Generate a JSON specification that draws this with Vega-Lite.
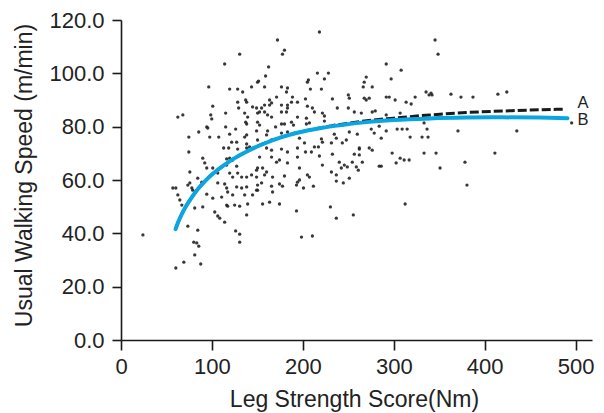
{
  "$schema": "https://vega.github.io/schema/vega-lite/v6.json",
  "width": 471,
  "height": 320,
  "autosize": {"type": "none"},
  "padding": {"left": 121, "top": 20, "right": 12, "bottom": 73},
  "background": "white",
  "config": {
    "view": {"stroke": null},
    "font": "Liberation Sans",
    "axis": {"domainColor": "#1a1a1a", "domainWidth": 1.6, "tickColor": "#1a1a1a", "tickWidth": 1.6, "labelColor": "#222222", "titleColor": "#222222", "labelFont": "Liberation Sans", "titleFont": "Liberation Sans", "labelFontSize": 22, "titleFontSize": 23, "titleFontWeight": "normal", "grid": false}
  },
  "datasets": {
    "pts": [
      {"x":130.5,"y":107.2},{"x":114,"y":103.5},{"x":96.5,"y":94.9},{"x":119.5,"y":94.1},{"x":128.3,"y":94.1},{"x":133.8,"y":93.0},{"x":143.6,"y":94.9},{"x":150.2,"y":96.7},{"x":100.9,"y":87.7},{"x":128.3,"y":89.2},{"x":137.1,"y":90.0},{"x":138.2,"y":89.2},{"x":129.4,"y":87.0},{"x":144.7,"y":87.4},{"x":149.1,"y":87.0},{"x":62.5,"y":83.6},{"x":68.0,"y":84.4},{"x":98.7,"y":84.4},{"x":99.8,"y":82.9},{"x":115.1,"y":85.1},{"x":136.0,"y":85.1},{"x":139.3,"y":83.6},{"x":137.1,"y":81.7},{"x":138.2,"y":81.0},{"x":150.2,"y":85.1},{"x":150.2,"y":81.7},{"x":94.3,"y":79.9},{"x":95.4,"y":79.5},{"x":115.1,"y":79.9},{"x":126.1,"y":79.1},{"x":85.5,"y":78.0},{"x":74.6,"y":76.1},{"x":97.6,"y":76.1},{"x":107.5,"y":76.1},{"x":119.5,"y":77.2},{"x":138.2,"y":76.9},{"x":136.0,"y":76.1},{"x":121.7,"y":74.2},{"x":127.2,"y":74.2},{"x":138.2,"y":73.5},{"x":141.4,"y":72.4},{"x":149.1,"y":78.4},{"x":150.2,"y":75.0},
      {"x":218.2,"y":115.5},{"x":172.1,"y":112.5},{"x":179.8,"y":108.7},{"x":177.6,"y":107.2},{"x":162.3,"y":102.4},{"x":159.0,"y":99.0},{"x":151.3,"y":97.1},{"x":176.5,"y":94.9},{"x":183.1,"y":94.5},{"x":182.0,"y":93.0},{"x":206.1,"y":97.5},{"x":205.0,"y":96.7},{"x":216.0,"y":100.1},{"x":223.7,"y":97.9},{"x":228.1,"y":100.1},{"x":208.3,"y":94.1},{"x":220.4,"y":94.1},{"x":269.7,"y":98.6},{"x":267.5,"y":96.7},{"x":266.4,"y":94.9},{"x":276.3,"y":94.9},{"x":157.9,"y":94.9},{"x":188.6,"y":91.1},{"x":194.1,"y":89.2},{"x":187.5,"y":89.2},{"x":163.4,"y":90.0},{"x":165.6,"y":88.9},{"x":163.4,"y":88.1},{"x":157.9,"y":88.1},{"x":171.1,"y":91.1},{"x":176.5,"y":88.1},{"x":183.1,"y":88.1},{"x":183.1,"y":87.0},{"x":202.9,"y":90.4},{"x":205.0,"y":87.7},{"x":232.5,"y":90.4},{"x":250.0,"y":91.9},{"x":251.1,"y":90.7},{"x":267.5,"y":90.7},{"x":273.0,"y":90.7},{"x":269.7,"y":90.0},{"x":279.6,"y":85.9},{"x":276.3,"y":85.5},{"x":264.3,"y":85.1},{"x":154.6,"y":87.0},{"x":152.4,"y":85.5},{"x":157.9,"y":85.5},{"x":161.2,"y":84.4},{"x":165.6,"y":83.6},{"x":176.5,"y":85.5},{"x":182.0,"y":85.5},{"x":210.5,"y":87.0},{"x":212.7,"y":85.5},{"x":221.5,"y":85.1},{"x":223.7,"y":84.0},{"x":237.9,"y":87.0},{"x":250.0,"y":87.0},{"x":194.1,"y":83.6},{"x":203.9,"y":83.2},{"x":187.5,"y":81.7},{"x":189.7,"y":80.6},{"x":176.5,"y":81.0},{"x":179.8,"y":81.0},{"x":152.4,"y":80.6},{"x":161.2,"y":78.4},{"x":170.0,"y":79.9},{"x":203.9,"y":81.0},{"x":207.2,"y":81.4},{"x":223.7,"y":82.1},{"x":234.6,"y":80.6},{"x":256.6,"y":85.5},{"x":176.5,"y":77.6},{"x":183.1,"y":78.0},{"x":190.8,"y":77.6},{"x":234.6,"y":77.2},{"x":236.8,"y":75.7},{"x":251.1,"y":78.0},{"x":259.9,"y":77.2},{"x":275.2,"y":79.1},{"x":278.5,"y":77.6},{"x":220.4,"y":75.4},{"x":221.5,"y":74.2},{"x":243.4,"y":73.9},{"x":247.8,"y":75.0},{"x":196.3,"y":75.7},{"x":201.8,"y":73.9},{"x":165.6,"y":75.0},{"x":160.1,"y":76.9},{"x":262.1,"y":72.0},{"x":273.0,"y":72.0},{"x":212.7,"y":72.4},{"x":231.4,"y":73.9},
      {"x":74.6,"y":70.5},{"x":112.9,"y":72.0},{"x":118.4,"y":72.0},{"x":128.3,"y":71.6},{"x":138.2,"y":72.0},{"x":89.9,"y":68.2},{"x":92.1,"y":66.4},{"x":94.3,"y":64.5},{"x":116.2,"y":67.9},{"x":119.5,"y":68.2},{"x":122.8,"y":67.5},{"x":75.7,"y":63.0},{"x":84.4,"y":60.7},{"x":100.9,"y":64.5},{"x":106.4,"y":62.6},{"x":116.2,"y":65.6},{"x":127.2,"y":65.2},{"x":119.5,"y":62.6},{"x":122.8,"y":61.1},{"x":128.3,"y":62.6},{"x":132.7,"y":61.1},{"x":138.2,"y":61.1},{"x":143.6,"y":61.9},{"x":149.1,"y":63.7},{"x":57.0,"y":57.0},{"x":60.3,"y":57.0},{"x":75.7,"y":58.9},{"x":73.5,"y":58.1},{"x":88.8,"y":59.2},{"x":77.9,"y":57.0},{"x":78.9,"y":56.2},{"x":62.5,"y":54.4},{"x":64.7,"y":52.5},{"x":66.9,"y":50.6},{"x":106.4,"y":58.9},{"x":114.0,"y":58.5},{"x":116.2,"y":57.0},{"x":117.3,"y":55.5},{"x":127.2,"y":57.4},{"x":132.7,"y":57.0},{"x":138.2,"y":57.4},{"x":94.3,"y":54.7},{"x":100.9,"y":53.2},{"x":110.7,"y":53.6},{"x":122.8,"y":54.4},{"x":136.0,"y":54.4},{"x":144.7,"y":54.4},{"x":150.2,"y":56.2},{"x":116.2,"y":50.6},{"x":117.3,"y":50.2},{"x":125.0,"y":50.6},{"x":130.5,"y":50.2},{"x":139.3,"y":51.0},{"x":81.1,"y":49.5},{"x":89.9,"y":49.9},{"x":103.1,"y":48.0},{"x":106.4,"y":46.5},{"x":108.6,"y":45.7},{"x":114.0,"y":44.2},{"x":138.2,"y":46.9},{"x":24.1,"y":39.4},{"x":73.5,"y":42.7},{"x":84.4,"y":41.2},{"x":126.1,"y":40.9},{"x":130.5,"y":39.7},{"x":80.0,"y":36.7},{"x":83.3,"y":36.4},{"x":85.5,"y":35.2},{"x":130.5,"y":36.7},{"x":81.1,"y":31.9},{"x":69.1,"y":29.2},{"x":87.7,"y":28.5},{"x":60.3,"y":27.0},
      {"x":160.1,"y":72.0},{"x":165.6,"y":71.2},{"x":176.5,"y":71.6},{"x":183.1,"y":70.5},{"x":194.1,"y":72.0},{"x":202.9,"y":70.5},{"x":209.4,"y":70.5},{"x":217.1,"y":72.4},{"x":152.4,"y":68.6},{"x":165.6,"y":68.6},{"x":171.1,"y":66.7},{"x":174.3,"y":67.5},{"x":194.1,"y":68.6},{"x":218.2,"y":69.0},{"x":232.5,"y":69.7},{"x":183.1,"y":66.4},{"x":221.5,"y":65.6},{"x":150.2,"y":64.5},{"x":155.7,"y":64.5},{"x":160.1,"y":63.0},{"x":157.9,"y":61.9},{"x":196.3,"y":64.5},{"x":240.1,"y":66.7},{"x":245.6,"y":65.6},{"x":248.9,"y":64.9},{"x":254.4,"y":66.7},{"x":256.6,"y":69.7},{"x":262.1,"y":69.4},{"x":262.1,"y":71.6},{"x":276.3,"y":71.2},{"x":258.8,"y":64.9},{"x":261.0,"y":63.7},{"x":265.4,"y":66.7},{"x":284.0,"y":65.2},{"x":286.2,"y":65.2},{"x":242.3,"y":64.5},{"x":231.4,"y":63.0},{"x":236.8,"y":61.9},{"x":251.1,"y":60.7},{"x":236.8,"y":59.6},{"x":244.5,"y":58.9},{"x":149.1,"y":61.1},{"x":154.6,"y":58.9},{"x":150.2,"y":58.1},{"x":149.1,"y":56.2},{"x":166.7,"y":61.1},{"x":179.8,"y":61.5},{"x":196.3,"y":60.0},{"x":194.1,"y":59.2},{"x":205.0,"y":61.9},{"x":207.2,"y":61.1},{"x":165.6,"y":57.7},{"x":174.3,"y":58.5},{"x":177.6,"y":57.7},{"x":193.0,"y":58.1},{"x":200.7,"y":57.0},{"x":211.6,"y":57.7},{"x":166.7,"y":55.5},{"x":155.7,"y":51.0},{"x":163.4,"y":51.7},{"x":174.3,"y":51.0},{"x":193.0,"y":48.4},{"x":230.3,"y":49.9},{"x":236.8,"y":45.7},{"x":255.5,"y":46.9},{"x":198.5,"y":38.6},{"x":210.5,"y":39.0},
      {"x":345.4,"y":112.5},{"x":348.7,"y":107.2},{"x":291.7,"y":103.5},{"x":308.1,"y":101.2},{"x":297.1,"y":97.9},{"x":291.7,"y":91.1},{"x":295.0,"y":91.1},{"x":301.5,"y":90.0},{"x":313.6,"y":89.2},{"x":319.1,"y":88.5},{"x":323.5,"y":91.1},{"x":335.5,"y":93.0},{"x":341.0,"y":92.6},{"x":342.1,"y":91.9},{"x":338.8,"y":91.9},{"x":362.9,"y":92.2},{"x":373.9,"y":91.1},{"x":387.1,"y":91.1},{"x":414.5,"y":92.2},{"x":424.3,"y":93.0},{"x":291.7,"y":84.4},{"x":307.0,"y":85.1},{"x":284.0,"y":80.2},{"x":291.7,"y":78.4},{"x":286.2,"y":75.7},{"x":303.7,"y":79.1},{"x":309.2,"y":79.1},{"x":314.7,"y":79.1},{"x":333.3,"y":81.4},{"x":336.6,"y":79.1},{"x":370.6,"y":78.4},{"x":435.3,"y":78.4},{"x":495.6,"y":81.4},{"x":318.0,"y":76.1},{"x":331.1,"y":76.1},{"x":337.7,"y":76.1},{"x":298.2,"y":70.1},{"x":333.3,"y":70.1},{"x":346.5,"y":70.1},{"x":307.0,"y":68.2},{"x":311.4,"y":67.5},{"x":316.9,"y":67.5},{"x":302.6,"y":66.4},{"x":350.9,"y":64.5},{"x":378.3,"y":66.7},{"x":411.2,"y":70.1},{"x":380.5,"y":58.1},{"x":312.5,"y":51.0}
    ],
    "curveB": [
      {"x":60,"y":41.6},{"x":63,"y":44.3},{"x":67,"y":47.3},{"x":72,"y":50.4},{"x":78,"y":53.6},{"x":85,"y":56.8},{"x":93,"y":59.8},{"x":102,"y":62.6},{"x":113,"y":65.5},{"x":125,"y":68.2},{"x":140,"y":71.0},{"x":157,"y":73.6},{"x":175,"y":75.9},{"x":195,"y":77.8},{"x":220,"y":79.5},{"x":245,"y":80.7},{"x":270,"y":81.7},{"x":300,"y":82.5},{"x":340,"y":83.1},{"x":380,"y":83.4},{"x":420,"y":83.5},{"x":460,"y":83.4},{"x":491,"y":83.2}
    ],
    "curveA": [
      {"x":60,"y":41.6},{"x":67,"y":47.3},{"x":78,"y":53.6},{"x":93,"y":59.8},{"x":113,"y":65.5},{"x":140,"y":71.0},{"x":175,"y":75.9},{"x":195,"y":77.8},{"x":220,"y":79.6},{"x":245,"y":81.0},{"x":270,"y":82.2},{"x":300,"y":83.2},{"x":340,"y":84.4},{"x":380,"y":85.3},{"x":430,"y":86.0},{"x":489,"y":86.6}
    ],
    "labels": [
      {"x":502,"y":88.9,"label":"A"},{"x":502,"y":82.5,"label":"B"}
    ]
  },
  "layer": [
    {
      "data": {"name": "pts"},
      "mark": {"type": "circle", "size": 11, "color": "#222222", "opacity": 0.9},
      "encoding": {
        "x": {"field": "x", "type": "quantitative", "scale": {"domain": [0, 518], "nice": false},
          "axis": {"values": [0,100,200,300,400,500], "tickSize": 10, "labelPadding": 6, "labelFlush": false, "title": "Leg Strength Score(Nm)", "titleX": 233, "titleY": 48, "titleBaseline": "top", "titleAnchor": null, "titleAlign": "center"}},
        "y": {"field": "y", "type": "quantitative", "scale": {"domain": [0, 120], "nice": false},
          "axis": {"values": [0,20,40,60,80,100,120], "format": ".1f", "tickSize": 9, "labelPadding": 8, "labelFlush": false, "title": "Usual Walking Speed (m/min)", "titleAngle": -90, "titleX": -97, "titleY": 155, "titleAlign": "center", "titleBaseline": "middle"}}
      }
    },
    {
      "data": {"name": "curveA"},
      "mark": {"type": "line", "color": "#1a1a1a", "strokeWidth": 3, "strokeDash": [9, 3], "interpolate": "monotone"},
      "encoding": {"x": {"field": "x", "type": "quantitative"}, "y": {"field": "y", "type": "quantitative"}}
    },
    {
      "data": {"name": "curveB"},
      "mark": {"type": "line", "color": "#0aa6e2", "strokeWidth": 4, "interpolate": "monotone", "strokeCap": "round"},
      "encoding": {"x": {"field": "x", "type": "quantitative"}, "y": {"field": "y", "type": "quantitative"}}
    },
    {
      "data": {"name": "labels"},
      "mark": {"type": "text", "align": "left", "baseline": "middle", "fontSize": 16.5, "color": "#222222", "font": "Liberation Sans"},
      "encoding": {"x": {"field": "x", "type": "quantitative"}, "y": {"field": "y", "type": "quantitative"}, "text": {"field": "label"}}
    }
  ]
}
